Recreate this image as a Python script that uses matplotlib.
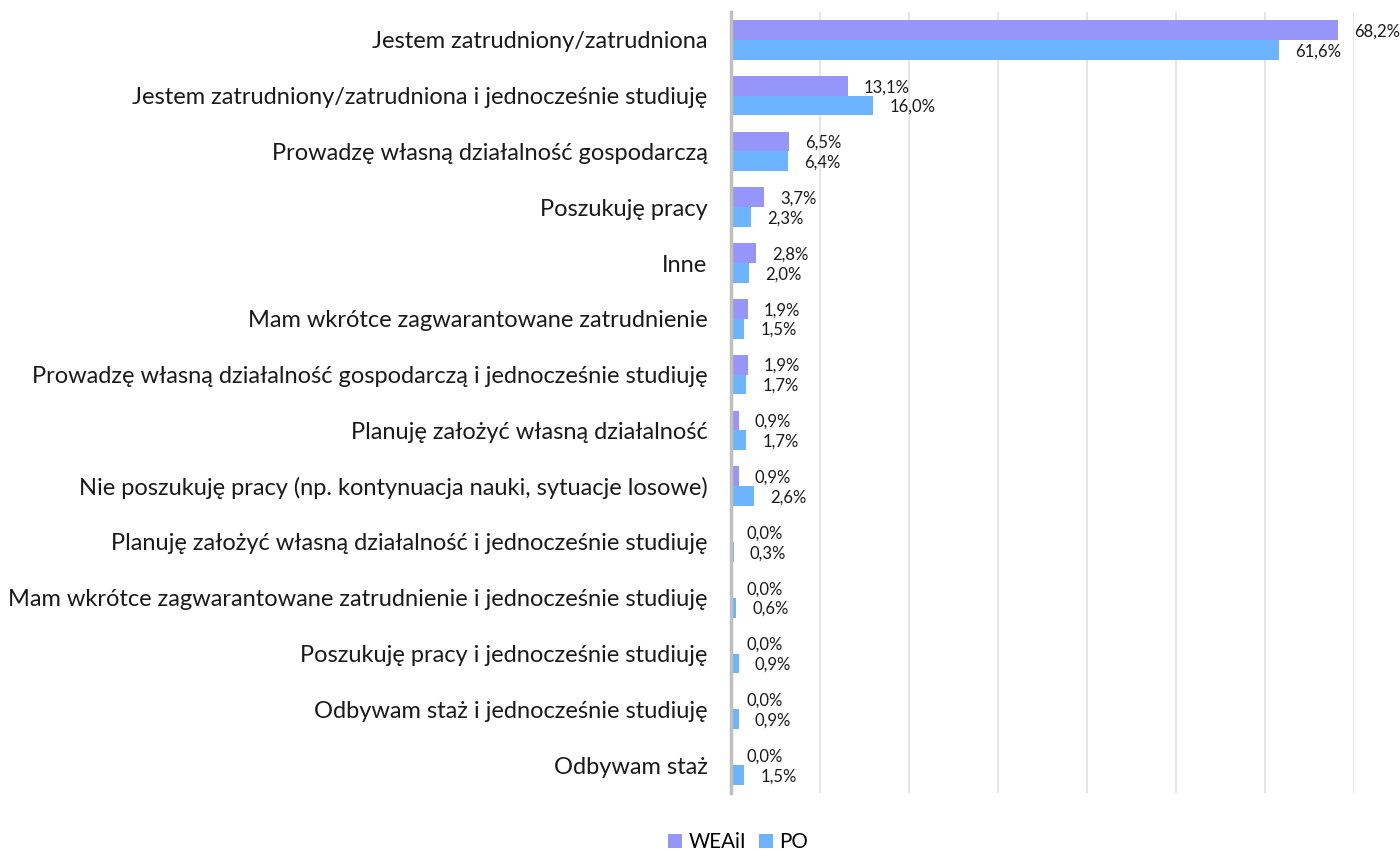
import matplotlib
matplotlib.use('Agg')
import matplotlib.pyplot as plt
import numpy as np

plt.rcParams['font.family'] = ['Lato', 'DejaVu Sans']

categories = [
    'Jestem zatrudniony/zatrudniona',
    'Jestem zatrudniony/zatrudniona i jednocześnie studiuję',
    'Prowadzę własną działalność gospodarczą',
    'Poszukuję pracy',
    'Inne',
    'Mam wkrótce zagwarantowane zatrudnienie',
    'Prowadzę własną działalność gospodarczą i jednocześnie studiuję',
    'Planuję założyć własną działalność',
    'Nie poszukuję pracy (np. kontynuacja nauki, sytuacje losowe)',
    'Planuję założyć własną działalność i jednocześnie studiuję',
    'Mam wkrótce zagwarantowane zatrudnienie i jednocześnie studiuję',
    'Poszukuję pracy i jednocześnie studiuję',
    'Odbywam staż i jednocześnie studiuję',
    'Odbywam staż',
]
weaii = [68.2, 13.1, 6.5, 3.7, 2.8, 1.9, 1.9, 0.9, 0.9, 0.0, 0.0, 0.0, 0.0, 0.0]
po = [61.6, 16.0, 6.4, 2.3, 2.0, 1.5, 1.7, 1.7, 2.6, 0.3, 0.6, 0.9, 0.9, 1.5]
series_names = ['WEAiI', 'PO']

c_weaii = '#9696FA'
c_po = '#6CB4FF'

fig = plt.figure(figsize=(14, 8.51), dpi=100)
ax = fig.add_axes([731/1400, 1 - 793/851, (1354 - 731)/1400, (793 - 12)/851])

y = np.arange(len(categories))
h = 0.355
b1 = ax.barh(y - h/2, weaii, height=h, color=c_weaii, label=series_names[0])
b2 = ax.barh(y + h/2, po, height=h, color=c_po, label=series_names[1])

for bars, vals in ((b1, weaii), (b2, po)):
    for bar, v in zip(bars, vals):
        ax.annotate(f'{v:.1f}%'.replace('.', ','),
                    (v, bar.get_y() + bar.get_height()/2),
                    xytext=(11.5, -1), textcoords='offset points',
                    ha='left', va='center', fontsize=12, color='#1a1a1a',
                    annotation_clip=False)

ax.set_xlim(0, 70)
ax.set_ylim(len(categories) - 0.5, -0.5)
ax.set_xticks(np.arange(10, 71, 10))
ax.set_xticklabels([])
ax.set_yticks(y)
ax.set_yticklabels(categories, fontsize=17, color='#1a1a1a')
ax.tick_params(axis='both', length=0)
ax.tick_params(axis='y', pad=17)
ax.grid(axis='x', color='#E4E4E4', linewidth=1.3)
ax.set_axisbelow(True)
for s in ['top', 'right', 'bottom']:
    ax.spines[s].set_visible(False)
ax.spines['left'].set_color('#BFBFBF')
ax.spines['left'].set_linewidth(2.5)
ax.spines['left'].set_zorder(3)

fig.legend(handles=[b1, b2], labels=series_names, loc='center',
           bbox_to_anchor=(738/1400, 1 - 842/851), ncol=2, frameon=False,
           fontsize=14.8, handlelength=0.68, handleheight=0.68,
           handletextpad=0.3, columnspacing=0.6)

fig.savefig('out.png', dpi=100)
